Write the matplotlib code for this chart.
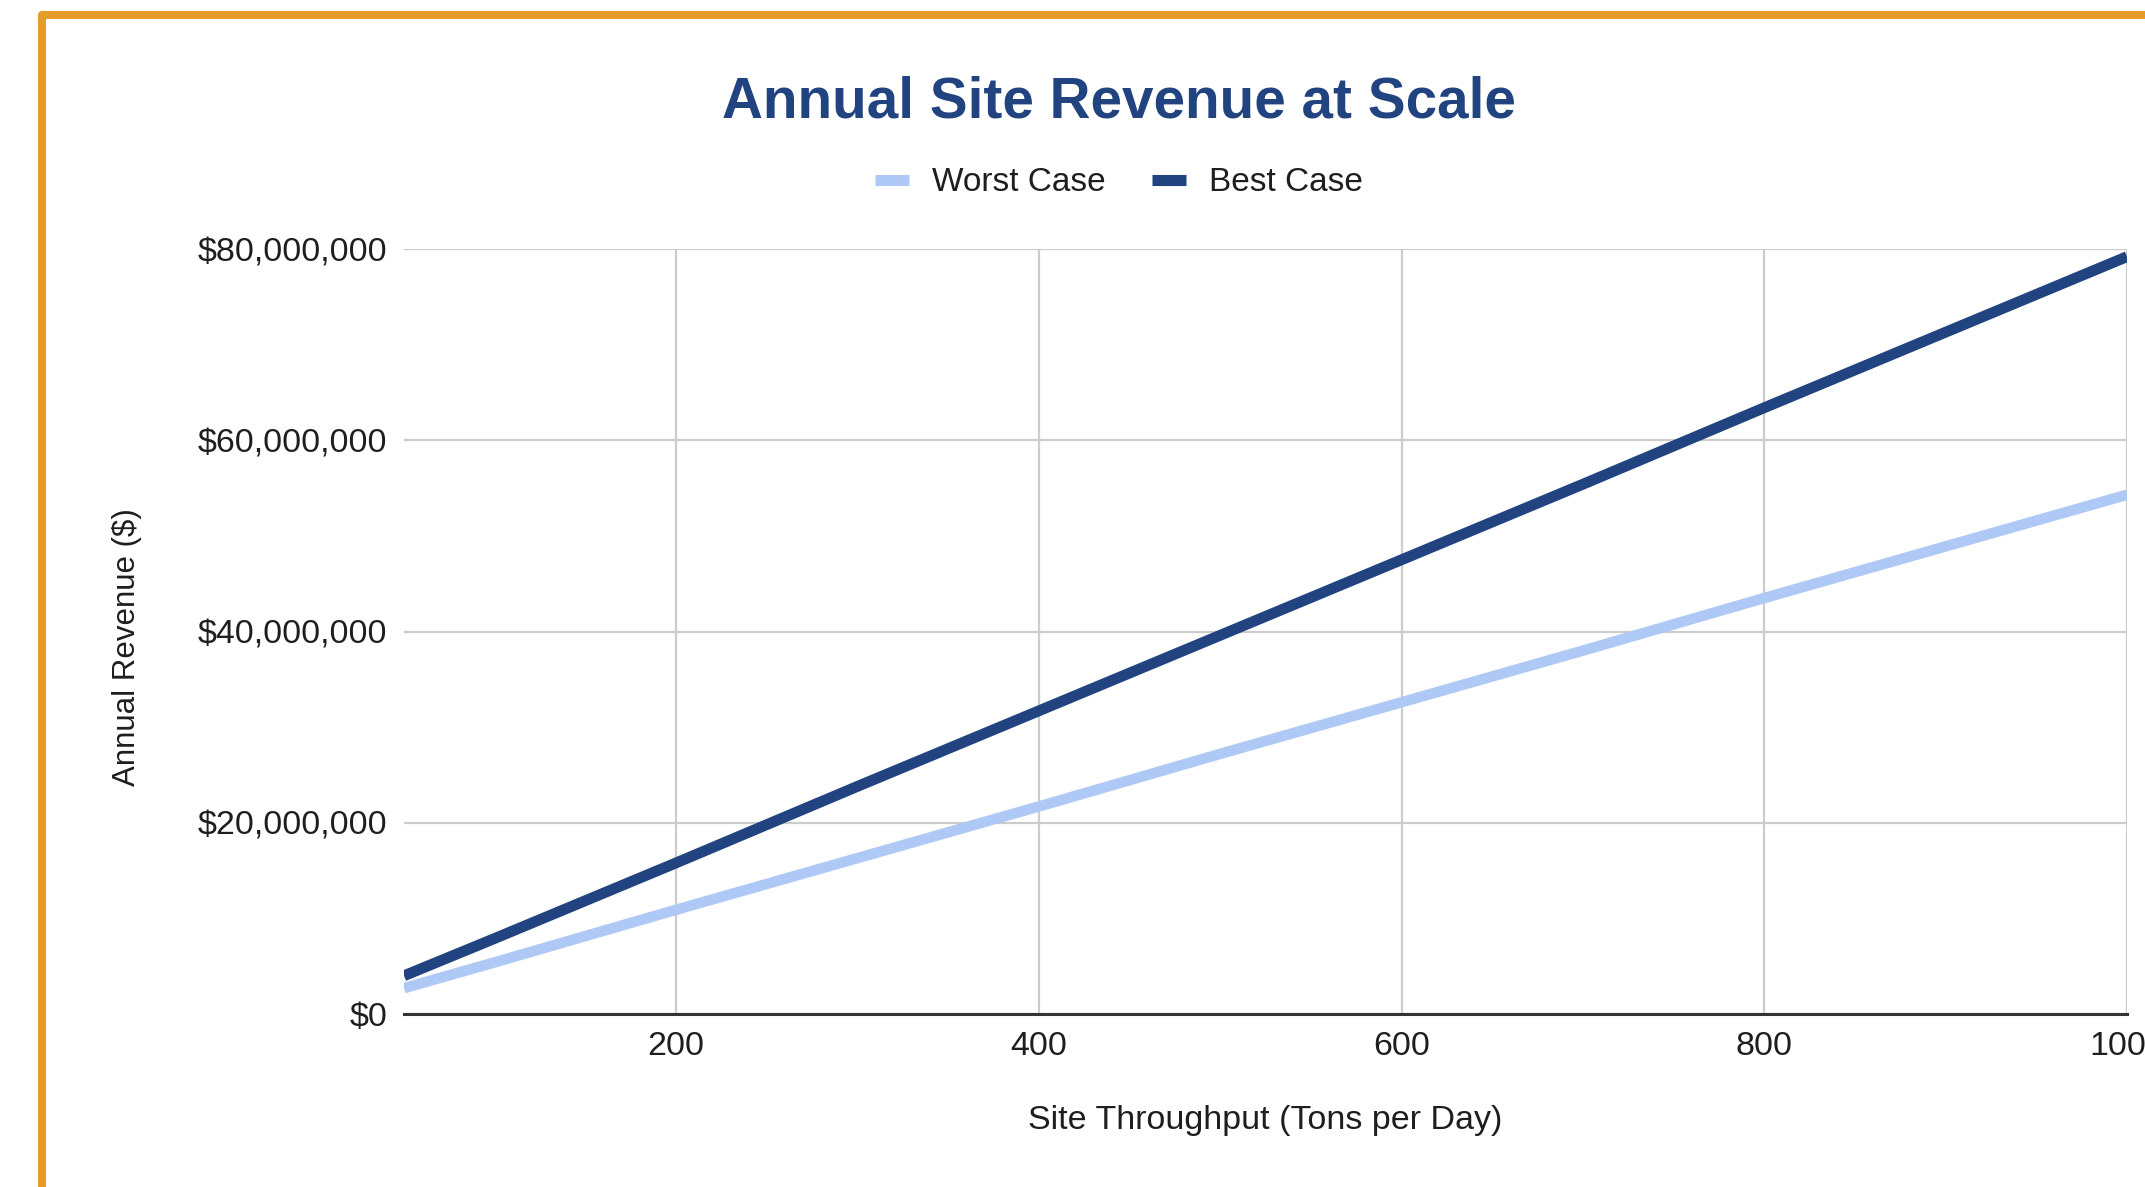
import matplotlib
matplotlib.use("Agg")
import matplotlib.pyplot as plt
from matplotlib.lines import Line2D
from matplotlib.ticker import FuncFormatter

# Data
throughput = [50, 100, 200, 300, 400, 500, 600, 700, 800, 900, 1000]
worst_case = [2.7e6, 5.4e6, 10.9e6, 16.3e6, 21.7e6, 27.2e6,
              32.6e6, 38.0e6, 43.5e6, 48.9e6, 54.3e6]
best_case = [4.0e6, 7.9e6, 15.8e6, 23.8e6, 31.7e6, 39.6e6,
             47.5e6, 55.4e6, 63.4e6, 71.3e6, 79.2e6]
x_ticks = [200, 400, 600, 800, 1000]
y_ticks = [0, 20e6, 40e6, 60e6, 80e6]

FONT = ["Liberation Sans", "DejaVu Sans"]
plt.rcParams["font.family"] = FONT

W, H = 2145, 1187
fig = plt.figure(figsize=(W / 100, H / 100), dpi=100)
fig.patch.set_facecolor("white")

# chart area in pixel coords
left, right, top, bottom = 404, 2127, 249, 1014
ax = fig.add_axes([left / W, 1 - bottom / H, (right - left) / W, (bottom - top) / H])

worst_color = "#AFC9F6"
best_color = "#214380"

ax.plot(throughput, worst_case, color=worst_color, lw=7.6, solid_capstyle="butt", label="Worst Case", zorder=3)
ax.plot(throughput, best_case, color=best_color, lw=7.8, solid_capstyle="butt", label="Best Case", zorder=4)

ax.set_xlim(50, 1000)
ax.set_ylim(0, 80e6)
ax.set_xticks(x_ticks)
ax.set_yticks(y_ticks)
ax.yaxis.set_major_formatter(FuncFormatter(lambda v, p: f"${v:,.0f}"))
ax.tick_params(length=0, labelsize=24.5, colors="#1e1e1e", pad=12)
ax.grid(True, color="#CCCCCC", lw=1.6, zorder=0)
ax.set_axisbelow(True)
for s in ["top", "right", "left"]:
    ax.spines[s].set_visible(False)
ax.spines["bottom"].set_color("#333333")
ax.spines["bottom"].set_linewidth(2.2)
ax.spines["bottom"].set_zorder(5)

# titles and axis labels
fig.text(1119 / W, 1 - 103 / H, "Annual Site Revenue at Scale", ha="center", va="center",
         fontsize=40.8, fontweight="bold", color="#214380")
fig.text(1265 / W, 1 - 1120 / H, "Site Throughput (Tons per Day)", ha="center", va="center",
         fontsize=24.5, color="#1e1e1e")
fig.text(127 / W, 1 - 647 / H, "Annual Revenue ($)", ha="center", va="center",
         rotation=90, fontsize=22.5, color="#1e1e1e")

handles = [Line2D([], [], color=worst_color, lw=8, solid_capstyle="butt"),
           Line2D([], [], color=best_color, lw=8, solid_capstyle="butt")]
fig.legend(handles, ["Worst Case", "Best Case"], loc="center", bbox_to_anchor=(1119 / W, 1 - 183 / H),
           ncol=2, frameon=False, fontsize=24, handlelength=1.0, handletextpad=0.7,
           columnspacing=1.4, labelcolor="#1e1e1e")

# orange frame on the left and top edges
fig.add_artist(Line2D([42 / W, 42 / W, 1.01], [-0.01, 1 - 15 / H, 1 - 15 / H],
                      transform=fig.transFigure, color="#E69B2A", lw=5.8,
                      solid_joinstyle="round", solid_capstyle="butt"))

fig.savefig("out.png", dpi=100, facecolor="white")
